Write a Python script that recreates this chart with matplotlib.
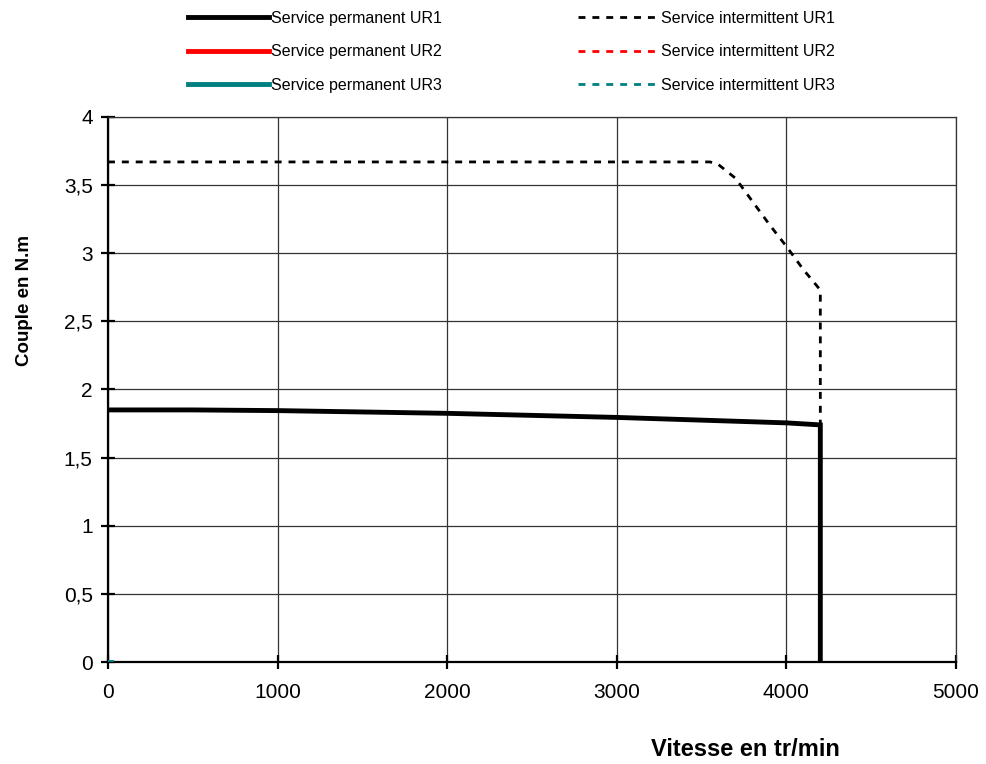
import matplotlib.pyplot as plt
from matplotlib.ticker import FuncFormatter, MultipleLocator

plt.rcParams['font.family'] = ['Liberation Sans', 'DejaVu Sans']

# permanent duty curve (UR1)
perm_speed = [0, 500, 1000, 1500, 2000, 2500, 3000, 3500, 4000, 4200, 4200]
perm_torque = [1.85, 1.85, 1.845, 1.835, 1.825, 1.81, 1.795, 1.775, 1.755, 1.74, 0]

# intermittent duty curve (UR1)
int_speed = [0, 3550, 3600, 3700, 3800, 3900, 4000, 4100, 4200, 4200]
int_torque = [3.67, 3.67, 3.65, 3.55, 3.38, 3.21, 3.05, 2.88, 2.73, 0]

# UR2 / UR3 only show a stub at the origin
ur3_speed = [0, 20]
ur3_torque = [0, 0]

colors = {'UR1': 'black', 'UR2': '#ff0000', 'UR3': '#008080'}

fig = plt.figure(figsize=(9.87, 7.64), dpi=100)
ax = fig.add_axes([0.1094, 0.1335, 0.8592, 0.7134])

ax.plot(perm_speed, perm_torque, color=colors['UR1'], lw=3.5,
        solid_joinstyle='miter', label='Service permanent UR1', zorder=4)
ax.plot([], [], color=colors['UR2'], lw=3.5, label='Service permanent UR2')
ax.plot(ur3_speed, ur3_torque, color=colors['UR3'], lw=3.5,
        label='Service permanent UR3', zorder=5)
ax.plot(int_speed, int_torque, color=colors['UR1'], lw=2, dashes=(2.5, 2.5),
        label='Service intermittent UR1', zorder=3)
ax.plot([], [], color=colors['UR2'], lw=2, dashes=(2.5, 2.5),
        label='Service intermittent UR2')
ax.plot([], [], color=colors['UR3'], lw=2, dashes=(2.5, 2.5),
        label='Service intermittent UR3')

ax.set_xlim(0, 5000)
ax.set_ylim(0, 4)
ax.xaxis.set_major_locator(MultipleLocator(1000))
ax.yaxis.set_major_locator(MultipleLocator(0.5))
ax.yaxis.set_major_formatter(FuncFormatter(lambda v, p: f'{v:g}'.replace('.', ',')))
ax.grid(True, color='#333333', lw=0.9)
ax.set_axisbelow(True)

# top / right edges look like ordinary grid lines
for s in ['top', 'right']:
    ax.spines[s].set_linewidth(0.9)
    ax.spines[s].set_color('#333333')
for s in ['left', 'bottom']:
    ax.spines[s].set_linewidth(1.6)
ax.tick_params(direction='inout', length=10, width=1.6, labelsize=15, pad=6,
               top=False, right=False)
ax.tick_params(axis='x', pad=10)

ax.set_xlabel('Vitesse en tr/min', fontsize=17, fontweight='bold')
ax.xaxis.set_label_coords(0.752, -0.14)
ax.set_ylabel('Couple en N.m', fontsize=13.5, fontweight='bold')
ax.yaxis.set_label_coords(-0.088, 0.664)

h, l = ax.get_legend_handles_labels()
leg_kw = dict(loc='upper left', frameon=False, fontsize=11.5, handlelength=5.1,
              handletextpad=0.12, labelspacing=1.17, borderpad=0, borderaxespad=0)
fig.legend(h[:3], l[:3], bbox_to_anchor=(188 / 987, 0.986), **leg_kw)
fig.legend(h[3:], l[3:], bbox_to_anchor=(578 / 987, 0.986), **leg_kw)

plt.savefig('out.png', dpi=100)
